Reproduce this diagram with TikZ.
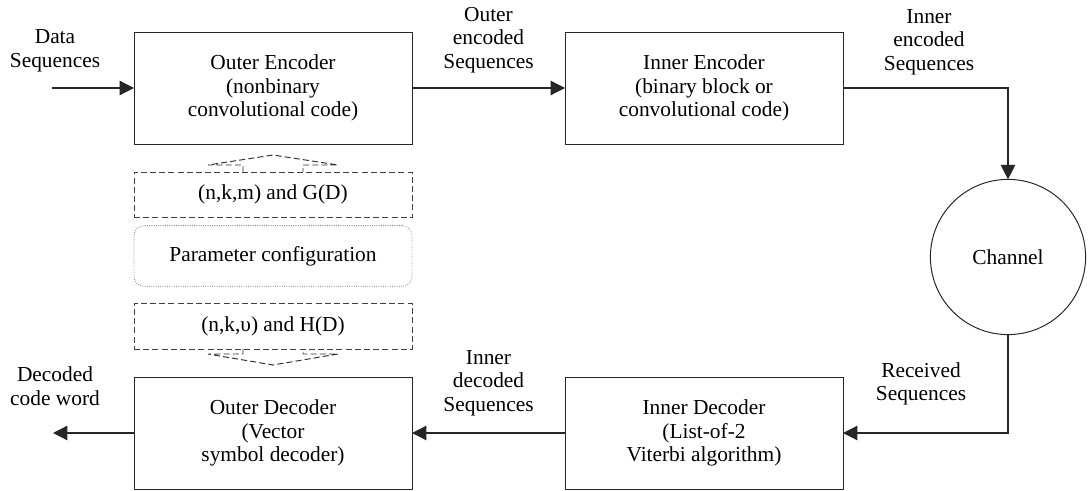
\documentclass[tikz,border=0pt]{standalone}
\usepackage{fontspec}
\setmainfont{Liberation Serif}
\usetikzlibrary{arrows.meta, positioning, calc}

\newcommand{\diagfont}{\fontsize{15.2pt}{16.8pt}\selectfont}

\begin{document}
\begin{tikzpicture}[
    >={Triangle[length=0.36cm, width=0.36cm]},
    % --- block styles ---
    block/.style={
        draw=black!85, line width=0.7pt, outer sep=0pt,
        minimum width=6.95cm, minimum height=2.8cm,
        font=\diagfont, align=center},
    param/.style={
        draw=black!75, dashed, dash pattern=on 0.15cm off 0.08cm,
        line width=0.6pt, outer sep=0pt,
        minimum width=6.95cm, minimum height=1.14cm,
        font=\diagfont, align=center},
    config/.style={
        draw=black!45, densely dotted, rounded corners=0.25cm,
        line width=0.6pt, outer sep=0pt,
        minimum width=6.95cm, minimum height=1.52cm,
        font=\diagfont, align=center},
    chan/.style={
        draw=black!85, line width=0.7pt, circle, outer sep=0pt,
        minimum size=3.88cm, font=\diagfont},
    lbl/.style={font=\diagfont, align=center},
    arr/.style={->, line width=0.9pt, black!85},
    dasharr/.style={draw=black!80, dashed, dash pattern=on 0.15cm off 0.08cm,
        line width=0.7pt},
]
\useasboundingbox (0,0) rectangle (27.2,-12.275);

% ===== ENCODERS (top) =====
\node[block] (outenc) at (6.825,-2.2) {Outer Encoder\\(nonbinary\\convolutional code)};
\node[block, right=3.825cm of outenc] (inenc) {Inner Encoder\\(binary block or\\convolutional code)};

% ===== PARAMETERS =====
\node[param, below=0.7cm of outenc] (gpar) {(n,k,m) and G(D)};
\node[config, below=0.2cm of gpar] (cfg) {Parameter configuration};
\node[param, below=0.425cm of cfg] (hpar) {(n,k,υ) and H(D)};

% ===== DECODERS (bottom) =====
\node[block, below=0.7cm of hpar] (outdec) {Outer Decoder\\(Vector\\symbol decoder)};
\node[block, right=3.825cm of outdec] (indec) {Inner Decoder\\(List-of-2\\Viterbi algorithm)};

% ===== CHANNEL =====
\node[chan] (channel) at (25.2,-6.425) {Channel};

% ===== FREE ENDS =====
\coordinate (src) at ([xshift=-2.05cm]outenc.west);
\coordinate (dst) at ([xshift=-2.025cm]outdec.west);

% ===== ARROWS =====
\draw[arr] (src) -- (outenc.west);
\draw[arr] (outenc.east) -- (inenc.west);
\draw[arr] (inenc.east) -| (channel.north);
\draw[arr] (channel.south) |- (indec.east);
\draw[arr] (indec.west) -- (outdec.east);
\draw[arr] (outdec.west) -- (dst);

% ===== DASHED BLOCK ARROWS =====
\draw[dasharr] ([xshift=-0.75cm]gpar.north) -- ++(0,0.175) -- ++(-0.875,0)
    -- ([yshift=0.425cm]gpar.north)
    -- ([xshift=1.625cm, yshift=0.175cm]gpar.north) -- ++(-0.875,0)
    -- ([xshift=0.75cm]gpar.north);
\draw[dasharr] ([xshift=-0.75cm]hpar.south) -- ++(0,-0.125) -- ++(-0.875,0)
    -- ([yshift=-0.4cm]hpar.south)
    -- ([xshift=1.625cm, yshift=-0.125cm]hpar.south) -- ++(-0.875,0)
    -- ([xshift=0.75cm]hpar.south);

% ===== LABELS =====
\node[lbl] (datalbl) at ([xshift=-1.975cm, yshift=0.925cm]outenc.west) {Data\\Sequences};
\node[lbl] (outenclbl) at ($(outenc.east)!0.5!(inenc.west)+(0,1.2)$) {Outer\\encoded\\Sequences};
\node[lbl] (inenclbl) at ([xshift=2.15cm, yshift=1.15cm]inenc.east) {Inner\\encoded\\Sequences};
\node[lbl] (rcvlbl) at ([xshift=1.95cm, yshift=1.225cm]indec.east) {Received\\Sequences};
\node[lbl] (indeclbl) at ($(indec.west)!0.5!(outdec.east)+(0,1.25)$) {Inner\\decoded\\Sequences};
\node[lbl] (declbl) at ([xshift=-1.975cm, yshift=1.175cm]outdec.west) {Decoded\\code word};

\end{tikzpicture}
\end{document}
